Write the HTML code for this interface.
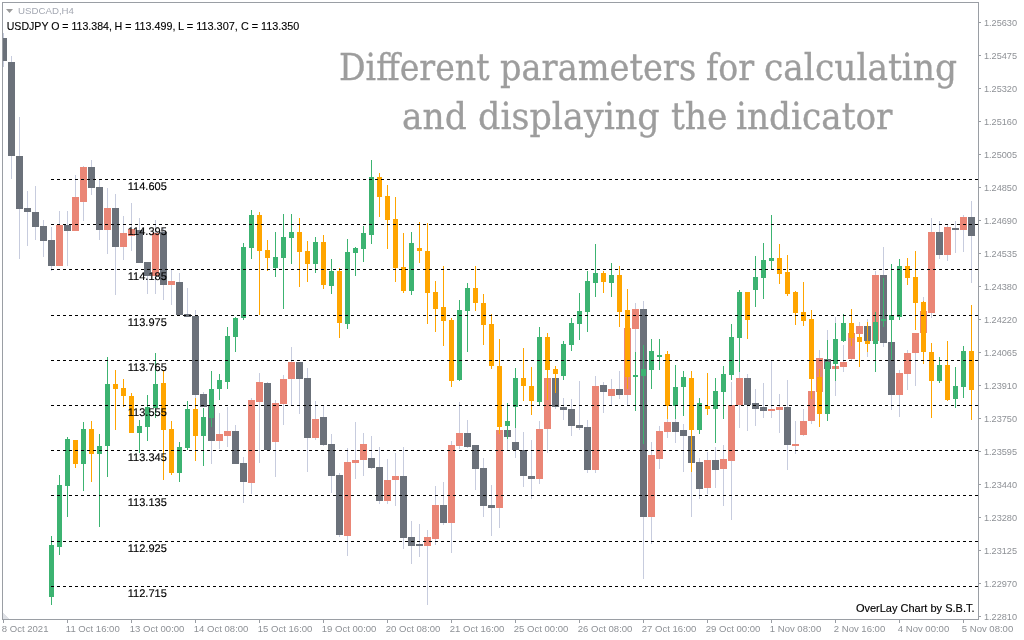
<!DOCTYPE html>
<html><head><meta charset="utf-8"><title>OverLay Chart</title>
<style>
html,body{margin:0;padding:0;background:#fff;}
body{width:1024px;height:640px;overflow:hidden;position:relative;font-family:"Liberation Sans",sans-serif;}
svg{position:absolute;left:0;top:0;display:block;}
.title{position:absolute;color:#9d9d9d;-webkit-text-stroke:0.35px #9d9d9d;font-family:"DejaVu Serif","Liberation Serif",serif;font-size:38px;line-height:48px;transform-origin:0 0;white-space:nowrap;}
</style></head><body>
<svg width="1024" height="640" viewBox="0 0 1024 640" shape-rendering="crispEdges">
<defs><clipPath id="plot"><rect x="3" y="3" width="975" height="616"/></clipPath></defs>
<g clip-path="url(#plot)">
<g fill="#c7ccde"><rect x="3" y="33" width="1" height="34"/><rect x="11" y="56" width="1" height="123"/><rect x="19" y="117" width="1" height="142"/><rect x="27" y="191" width="1" height="55"/><rect x="35" y="186" width="1" height="54"/><rect x="43" y="219.5" width="1" height="37.5"/><rect x="51" y="227" width="1" height="44"/><rect x="59" y="211" width="1" height="55"/><rect x="67" y="211" width="1" height="55"/><rect x="75" y="175" width="1" height="56"/><rect x="83" y="166" width="1" height="55"/><rect x="91" y="160" width="1" height="35"/><rect x="99" y="180" width="1" height="60"/><rect x="107" y="188" width="1" height="66"/><rect x="115" y="194" width="1" height="101"/><rect x="123" y="216" width="1" height="44"/><rect x="131" y="202.5" width="1" height="48"/><rect x="139" y="217.5" width="1" height="45.5"/><rect x="147" y="262" width="1" height="32"/><rect x="155" y="219.5" width="1" height="74.5"/><rect x="163" y="227.5" width="1" height="72.5"/><rect x="171" y="269" width="1" height="36"/><rect x="179" y="272.5" width="1" height="42.5"/><rect x="187" y="287.5" width="1" height="29.5"/><rect x="195" y="310" width="1" height="96"/><rect x="203" y="392" width="1" height="15"/><rect x="211" y="406" width="1" height="58"/><rect x="219" y="413" width="1" height="36"/><rect x="227" y="407" width="1" height="40"/><rect x="235" y="425" width="1" height="39"/><rect x="243" y="457" width="1" height="46"/><rect x="251" y="398" width="1" height="96"/><rect x="259" y="373" width="1" height="90"/><rect x="267" y="382" width="1" height="69"/><rect x="275" y="400" width="1" height="77"/><rect x="283" y="375" width="1" height="50"/><rect x="291" y="347" width="1" height="58"/><rect x="299" y="362" width="1" height="52"/><rect x="307" y="368" width="1" height="104"/><rect x="315" y="401" width="1" height="39"/><rect x="323" y="405" width="1" height="41"/><rect x="331" y="434" width="1" height="59"/><rect x="339" y="473" width="1" height="64"/><rect x="347" y="448" width="1" height="108"/><rect x="355" y="422" width="1" height="57"/><rect x="363" y="433" width="1" height="43"/><rect x="371" y="436" width="1" height="33"/><rect x="379" y="447" width="1" height="57"/><rect x="387" y="459" width="1" height="45"/><rect x="395" y="453" width="1" height="53"/><rect x="403" y="447" width="1" height="102"/><rect x="411" y="521" width="1" height="43"/><rect x="419" y="524" width="1" height="33"/><rect x="427" y="530" width="1" height="75"/><rect x="435" y="486" width="1" height="59"/><rect x="443" y="482" width="1" height="43"/><rect x="451" y="441" width="1" height="112"/><rect x="459" y="402" width="1" height="47"/><rect x="467" y="420" width="1" height="28"/><rect x="475" y="445" width="1" height="45"/><rect x="483" y="458" width="1" height="59"/><rect x="491" y="485" width="1" height="51"/><rect x="499" y="430" width="1" height="98"/><rect x="507" y="430" width="1" height="20"/><rect x="515" y="428" width="1" height="30"/><rect x="523" y="432" width="1" height="55"/><rect x="531" y="440" width="1" height="59"/><rect x="539" y="421" width="1" height="63"/><rect x="547" y="378" width="1" height="75"/><rect x="555" y="378" width="1" height="31"/><rect x="563" y="398" width="1" height="22"/><rect x="571" y="399" width="1" height="37"/><rect x="579" y="381" width="1" height="49"/><rect x="587" y="420" width="1" height="53"/><rect x="595" y="376" width="1" height="97"/><rect x="603" y="382" width="1" height="31"/><rect x="611" y="379" width="1" height="26"/><rect x="619" y="371" width="1" height="28"/><rect x="627" y="328" width="1" height="77"/><rect x="635" y="303" width="1" height="57"/><rect x="643" y="301" width="1" height="278"/><rect x="651" y="442" width="1" height="102"/><rect x="659" y="426" width="1" height="43"/><rect x="667" y="419" width="1" height="19"/><rect x="675" y="419" width="1" height="24"/><rect x="683" y="424" width="1" height="48"/><rect x="691" y="436" width="1" height="81"/><rect x="699" y="458" width="1" height="41"/><rect x="707" y="452" width="1" height="42"/><rect x="715" y="447" width="1" height="41"/><rect x="723" y="445" width="1" height="61"/><rect x="731" y="382" width="1" height="138"/><rect x="739" y="372" width="1" height="56"/><rect x="747" y="374" width="1" height="57"/><rect x="755" y="389" width="1" height="37"/><rect x="763" y="383" width="1" height="35"/><rect x="771" y="360" width="1" height="58"/><rect x="779" y="394" width="1" height="39"/><rect x="787" y="380" width="1" height="90"/><rect x="795" y="421" width="1" height="33"/><rect x="803" y="409" width="1" height="27"/><rect x="811" y="390" width="1" height="34"/><rect x="819" y="350" width="1" height="43"/><rect x="827" y="330" width="1" height="40"/><rect x="835" y="317" width="1" height="79"/><rect x="843" y="345" width="1" height="27"/><rect x="851" y="325" width="1" height="35"/><rect x="859" y="322" width="1" height="18"/><rect x="867" y="319" width="1" height="38"/><rect x="875" y="271" width="1" height="71"/><rect x="883" y="247" width="1" height="100"/><rect x="891" y="342" width="1" height="68"/><rect x="899" y="370" width="1" height="47"/><rect x="907" y="350" width="1" height="40"/><rect x="915" y="333" width="1" height="53"/><rect x="923" y="297" width="1" height="38"/><rect x="931" y="218" width="1" height="99.5"/><rect x="939" y="221" width="1" height="38"/><rect x="947" y="225" width="1" height="36"/><rect x="955" y="221" width="1" height="32"/><rect x="963" y="215" width="1" height="37"/><rect x="971" y="201" width="1" height="82"/></g>
<g><rect x="0" y="38" width="7" height="23" fill="#6b717a"/><rect x="8" y="62" width="7" height="94" fill="#6b717a"/><rect x="16" y="156" width="7" height="53" fill="#6b717a"/><rect x="24" y="208" width="7" height="4" fill="#6b717a"/><rect x="32" y="212" width="7" height="15" fill="#6b717a"/><rect x="40" y="226" width="7" height="15" fill="#6b717a"/><rect x="48" y="240" width="7" height="25.5" fill="#6b717a"/><rect x="56" y="224.5" width="7" height="41" fill="#ea8676"/><rect x="64" y="225" width="7" height="5.5" fill="#6b717a"/><rect x="72" y="197" width="7" height="33.5" fill="#ea8676"/><rect x="80" y="167" width="7" height="34.5" fill="#ea8676"/><rect x="88" y="167" width="7" height="20.5" fill="#6b717a"/><rect x="96" y="187" width="7" height="42.5" fill="#6b717a"/><rect x="104" y="208" width="7" height="21.5" fill="#ea8676"/><rect x="112" y="208" width="7" height="39" fill="#6b717a"/><rect x="120" y="233" width="7" height="14" fill="#ea8676"/><rect x="128" y="229" width="7" height="6.5" fill="#ea8676"/><rect x="136" y="230" width="7" height="32.5" fill="#6b717a"/><rect x="144" y="262" width="7" height="14" fill="#6b717a"/><rect x="152" y="232.5" width="7" height="43.5" fill="#ea8676"/><rect x="160" y="232" width="7" height="52.5" fill="#6b717a"/><rect x="168" y="281" width="7" height="3.5" fill="#ea8676"/><rect x="176" y="282" width="7" height="33" fill="#6b717a"/><rect x="184" y="314" width="7" height="3" fill="#6b717a"/><rect x="192" y="315.5" width="7" height="79.5" fill="#6b717a"/><rect x="200" y="394" width="7" height="13" fill="#6b717a"/><rect x="208" y="406" width="7" height="35" fill="#6b717a"/><rect x="216" y="434" width="7" height="7" fill="#ea8676"/><rect x="224" y="431" width="7" height="5" fill="#ea8676"/><rect x="232" y="431" width="7" height="33" fill="#6b717a"/><rect x="240" y="463" width="7" height="19" fill="#6b717a"/><rect x="248" y="400" width="7" height="83" fill="#ea8676"/><rect x="256" y="382" width="7" height="20" fill="#ea8676"/><rect x="264" y="383" width="7" height="67" fill="#6b717a"/><rect x="272" y="403" width="7" height="39" fill="#ea8676"/><rect x="280" y="379" width="7" height="25" fill="#ea8676"/><rect x="288" y="362" width="7" height="17" fill="#ea8676"/><rect x="296" y="362" width="7" height="17" fill="#6b717a"/><rect x="304" y="378" width="7" height="60" fill="#6b717a"/><rect x="312" y="419" width="7" height="19" fill="#ea8676"/><rect x="320" y="417" width="7" height="28" fill="#6b717a"/><rect x="328" y="444" width="7" height="32" fill="#6b717a"/><rect x="336" y="475" width="7" height="60" fill="#6b717a"/><rect x="344" y="462" width="7" height="74" fill="#ea8676"/><rect x="352" y="460" width="7" height="3" fill="#ea8676"/><rect x="360" y="444" width="7" height="16" fill="#ea8676"/><rect x="368" y="458" width="7" height="10" fill="#6b717a"/><rect x="376" y="467" width="7" height="34" fill="#6b717a"/><rect x="384" y="480" width="7" height="21" fill="#ea8676"/><rect x="392" y="476" width="7" height="4" fill="#ea8676"/><rect x="400" y="476" width="7" height="62" fill="#6b717a"/><rect x="408" y="537" width="7" height="9" fill="#6b717a"/><rect x="416" y="544" width="7" height="2" fill="#6b717a"/><rect x="424" y="537" width="7" height="9" fill="#ea8676"/><rect x="432" y="505" width="7" height="34" fill="#ea8676"/><rect x="440" y="505" width="7" height="18" fill="#6b717a"/><rect x="448" y="445" width="7" height="78" fill="#ea8676"/><rect x="456" y="433" width="7" height="13" fill="#ea8676"/><rect x="464" y="433" width="7" height="14" fill="#6b717a"/><rect x="472" y="445" width="7" height="24" fill="#6b717a"/><rect x="480" y="468" width="7" height="38" fill="#6b717a"/><rect x="488" y="505" width="7" height="3" fill="#6b717a"/><rect x="496" y="430" width="7" height="78" fill="#ea8676"/><rect x="504" y="430" width="7" height="7" fill="#6b717a"/><rect x="512" y="442" width="7" height="8" fill="#6b717a"/><rect x="520" y="450" width="7" height="26" fill="#6b717a"/><rect x="528" y="476" width="7" height="3" fill="#6b717a"/><rect x="536" y="429" width="7" height="50" fill="#ea8676"/><rect x="544" y="378" width="7" height="51" fill="#ea8676"/><rect x="552" y="378" width="7" height="29" fill="#6b717a"/><rect x="560" y="407" width="7" height="3" fill="#6b717a"/><rect x="568" y="409" width="7" height="17" fill="#6b717a"/><rect x="576" y="425" width="7" height="3" fill="#6b717a"/><rect x="584" y="427" width="7" height="43" fill="#6b717a"/><rect x="592" y="386" width="7" height="84" fill="#ea8676"/><rect x="600" y="385" width="7" height="7" fill="#6b717a"/><rect x="608" y="389" width="7" height="7" fill="#ea8676"/><rect x="616" y="389" width="7" height="6" fill="#6b717a"/><rect x="624" y="328" width="7" height="67" fill="#ea8676"/><rect x="632" y="309" width="7" height="20" fill="#ea8676"/><rect x="640" y="309" width="7" height="208" fill="#6b717a"/><rect x="648" y="455" width="7" height="62" fill="#ea8676"/><rect x="656" y="431" width="7" height="28" fill="#ea8676"/><rect x="664" y="422" width="7" height="10" fill="#ea8676"/><rect x="672" y="422" width="7" height="10" fill="#6b717a"/><rect x="680" y="430" width="7" height="6" fill="#6b717a"/><rect x="688" y="436" width="7" height="27" fill="#6b717a"/><rect x="696" y="462" width="7" height="27" fill="#6b717a"/><rect x="704" y="460" width="7" height="28" fill="#ea8676"/><rect x="712" y="460" width="7" height="10" fill="#6b717a"/><rect x="720" y="459" width="7" height="10" fill="#ea8676"/><rect x="728" y="405" width="7" height="56" fill="#ea8676"/><rect x="736" y="378" width="7" height="27" fill="#ea8676"/><rect x="744" y="378" width="7" height="27" fill="#6b717a"/><rect x="752" y="403" width="7" height="6" fill="#6b717a"/><rect x="760" y="407" width="7" height="4" fill="#6b717a"/><rect x="768" y="409" width="7" height="2" fill="#ea8676"/><rect x="776" y="407" width="7" height="3" fill="#ea8676"/><rect x="784" y="407" width="7" height="38" fill="#6b717a"/><rect x="792" y="444" width="7" height="2" fill="#ea8676"/><rect x="800" y="421" width="7" height="14" fill="#ea8676"/><rect x="808" y="391" width="7" height="30" fill="#ea8676"/><rect x="816" y="358" width="7" height="34" fill="#ea8676"/><rect x="824" y="359" width="7" height="10" fill="#6b717a"/><rect x="832" y="366" width="7" height="3" fill="#ea8676"/><rect x="840" y="362" width="7" height="5" fill="#ea8676"/><rect x="848" y="333" width="7" height="26" fill="#ea8676"/><rect x="856" y="326" width="7" height="8" fill="#ea8676"/><rect x="864" y="326" width="7" height="15" fill="#6b717a"/><rect x="872" y="275" width="7" height="66" fill="#ea8676"/><rect x="880" y="275" width="7" height="68" fill="#6b717a"/><rect x="888" y="342" width="7" height="53" fill="#6b717a"/><rect x="896" y="373" width="7" height="22" fill="#ea8676"/><rect x="904" y="353" width="7" height="21" fill="#ea8676"/><rect x="912" y="333" width="7" height="20" fill="#ea8676"/><rect x="920" y="311" width="7" height="22" fill="#ea8676"/><rect x="928" y="232" width="7" height="81" fill="#ea8676"/><rect x="936" y="232" width="7" height="23" fill="#6b717a"/><rect x="944" y="227" width="7" height="28" fill="#ea8676"/><rect x="952" y="228" width="7" height="1.5" fill="#6b717a"/><rect x="960" y="217" width="7" height="13" fill="#ea8676"/><rect x="968" y="217" width="7" height="18.5" fill="#6b717a"/></g>
<g><rect x="51" y="536" width="1" height="69" fill="#3cb371"/><rect x="59" y="475" width="1" height="80" fill="#3cb371"/><rect x="67" y="437" width="1" height="80" fill="#3cb371"/><rect x="75" y="440" width="1" height="28" fill="#ffa500"/><rect x="83" y="422" width="1" height="69" fill="#3cb371"/><rect x="91" y="421" width="1" height="61" fill="#ffa500"/><rect x="99" y="434" width="1" height="93" fill="#3cb371"/><rect x="107" y="357" width="1" height="120" fill="#3cb371"/><rect x="115" y="370" width="1" height="60" fill="#ffa500"/><rect x="123" y="379" width="1" height="28" fill="#ffa500"/><rect x="131" y="393" width="1" height="40" fill="#ffa500"/><rect x="139" y="420" width="1" height="33" fill="#3cb371"/><rect x="147" y="395" width="1" height="46" fill="#3cb371"/><rect x="155" y="353" width="1" height="65" fill="#3cb371"/><rect x="163" y="370" width="1" height="110" fill="#ffa500"/><rect x="171" y="421" width="1" height="54" fill="#ffa500"/><rect x="179" y="442" width="1" height="40" fill="#3cb371"/><rect x="187" y="401" width="1" height="49" fill="#3cb371"/><rect x="195" y="397.5" width="1" height="63.5" fill="#ffa500"/><rect x="203" y="408" width="1" height="58" fill="#3cb371"/><rect x="211" y="371" width="1" height="56" fill="#3cb371"/><rect x="219" y="374" width="1" height="26" fill="#3cb371"/><rect x="227" y="327" width="1" height="62" fill="#3cb371"/><rect x="235" y="317" width="1" height="35" fill="#3cb371"/><rect x="243" y="242.5" width="1" height="77.5" fill="#3cb371"/><rect x="251" y="210" width="1" height="49" fill="#3cb371"/><rect x="259" y="212" width="1" height="103" fill="#ffa500"/><rect x="267" y="240" width="1" height="30.5" fill="#ffa500"/><rect x="275" y="232" width="1" height="45" fill="#3cb371"/><rect x="283" y="214" width="1" height="95" fill="#3cb371"/><rect x="291" y="214" width="1" height="50" fill="#3cb371"/><rect x="299" y="218" width="1" height="69" fill="#ffa500"/><rect x="307" y="241" width="1" height="41" fill="#ffa500"/><rect x="315" y="237" width="1" height="36" fill="#3cb371"/><rect x="323" y="235" width="1" height="54" fill="#ffa500"/><rect x="331" y="259" width="1" height="35" fill="#3cb371"/><rect x="339" y="268" width="1" height="70" fill="#ffa500"/><rect x="347" y="239" width="1" height="90" fill="#3cb371"/><rect x="355" y="247" width="1" height="29" fill="#3cb371"/><rect x="363" y="226" width="1" height="36" fill="#3cb371"/><rect x="371" y="160" width="1" height="84" fill="#3cb371"/><rect x="379" y="173" width="1" height="44" fill="#ffa500"/><rect x="387" y="185" width="1" height="64" fill="#ffa500"/><rect x="395" y="197" width="1" height="85" fill="#ffa500"/><rect x="403" y="233" width="1" height="60" fill="#ffa500"/><rect x="411" y="232" width="1" height="63" fill="#3cb371"/><rect x="419" y="222" width="1" height="41" fill="#ffa500"/><rect x="427" y="223" width="1" height="101" fill="#ffa500"/><rect x="435" y="281" width="1" height="51" fill="#ffa500"/><rect x="443" y="266" width="1" height="80" fill="#ffa500"/><rect x="451" y="318" width="1" height="69" fill="#ffa500"/><rect x="459" y="300" width="1" height="81" fill="#3cb371"/><rect x="467" y="283" width="1" height="69" fill="#3cb371"/><rect x="475" y="266" width="1" height="45" fill="#ffa500"/><rect x="483" y="294" width="1" height="51" fill="#ffa500"/><rect x="491" y="314" width="1" height="55" fill="#ffa500"/><rect x="499" y="339" width="1" height="95" fill="#ffa500"/><rect x="507" y="403" width="1" height="36" fill="#3cb371"/><rect x="515" y="368" width="1" height="60" fill="#3cb371"/><rect x="523" y="348" width="1" height="53" fill="#ffa500"/><rect x="531" y="367" width="1" height="48" fill="#ffa500"/><rect x="539" y="327" width="1" height="78" fill="#3cb371"/><rect x="547" y="333" width="1" height="67" fill="#ffa500"/><rect x="555" y="366" width="1" height="27" fill="#ffa500"/><rect x="563" y="341" width="1" height="39" fill="#3cb371"/><rect x="571" y="317.5" width="1" height="33.5" fill="#3cb371"/><rect x="579" y="293" width="1" height="47" fill="#3cb371"/><rect x="587" y="271" width="1" height="61" fill="#3cb371"/><rect x="595" y="244" width="1" height="53" fill="#3cb371"/><rect x="603" y="271" width="1" height="22" fill="#ffa500"/><rect x="611" y="263" width="1" height="34" fill="#3cb371"/><rect x="619" y="266" width="1" height="61" fill="#ffa500"/><rect x="627" y="289" width="1" height="100" fill="#ffa500"/><rect x="635" y="352" width="1" height="59" fill="#3cb371"/><rect x="643" y="345" width="1" height="99" fill="#3cb371"/><rect x="651" y="339" width="1" height="50" fill="#3cb371"/><rect x="659" y="339" width="1" height="31" fill="#3cb371"/><rect x="667" y="351" width="1" height="68" fill="#ffa500"/><rect x="675" y="365" width="1" height="54" fill="#3cb371"/><rect x="683" y="371" width="1" height="45" fill="#3cb371"/><rect x="691" y="371" width="1" height="101" fill="#ffa500"/><rect x="699" y="398" width="1" height="36" fill="#3cb371"/><rect x="707" y="373" width="1" height="42" fill="#ffa500"/><rect x="715" y="378" width="1" height="65" fill="#3cb371"/><rect x="723" y="366" width="1" height="53" fill="#3cb371"/><rect x="731" y="324" width="1" height="56" fill="#3cb371"/><rect x="739" y="290" width="1" height="82" fill="#3cb371"/><rect x="747" y="292" width="1" height="47" fill="#ffa500"/><rect x="755" y="256" width="1" height="51" fill="#3cb371"/><rect x="763" y="243" width="1" height="56" fill="#3cb371"/><rect x="771" y="215" width="1" height="54.5" fill="#3cb371"/><rect x="779" y="244" width="1" height="40" fill="#ffa500"/><rect x="787" y="255" width="1" height="41" fill="#ffa500"/><rect x="795" y="291" width="1" height="34" fill="#ffa500"/><rect x="803" y="282" width="1" height="44" fill="#ffa500"/><rect x="811" y="310" width="1" height="89" fill="#ffa500"/><rect x="819" y="369" width="1" height="58" fill="#ffa500"/><rect x="827" y="340" width="1" height="81" fill="#3cb371"/><rect x="835" y="323" width="1" height="58" fill="#3cb371"/><rect x="843" y="314" width="1" height="28" fill="#3cb371"/><rect x="851" y="309" width="1" height="37" fill="#ffa500"/><rect x="859" y="334" width="1" height="33" fill="#ffa500"/><rect x="867" y="322" width="1" height="30" fill="#ffa500"/><rect x="875" y="312" width="1" height="60" fill="#3cb371"/><rect x="883" y="277.5" width="1" height="49.5" fill="#3cb371"/><rect x="891" y="264" width="1" height="96" fill="#3cb371"/><rect x="899" y="259" width="1" height="61" fill="#3cb371"/><rect x="907" y="258" width="1" height="27" fill="#ffa500"/><rect x="915" y="251" width="1" height="79" fill="#ffa500"/><rect x="923" y="300.5" width="1" height="63.5" fill="#ffa500"/><rect x="931" y="343" width="1" height="75" fill="#ffa500"/><rect x="939" y="357" width="1" height="26" fill="#3cb371"/><rect x="947" y="341" width="1" height="60" fill="#ffa500"/><rect x="955" y="367" width="1" height="41" fill="#3cb371"/><rect x="963" y="346" width="1" height="52" fill="#3cb371"/><rect x="971" y="305" width="1" height="115" fill="#ffa500"/></g>
<g><rect x="49" y="545" width="5" height="52" fill="#3cb371"/><rect x="57" y="485" width="5" height="62" fill="#3cb371"/><rect x="65" y="439" width="5" height="47" fill="#3cb371"/><rect x="73" y="440" width="5" height="24" fill="#ffa500"/><rect x="81" y="429" width="5" height="35" fill="#3cb371"/><rect x="89" y="429" width="5" height="25" fill="#ffa500"/><rect x="97" y="446" width="5" height="8" fill="#3cb371"/><rect x="105" y="384" width="5" height="62" fill="#3cb371"/><rect x="113" y="384" width="5" height="5" fill="#ffa500"/><rect x="121" y="388" width="5" height="8" fill="#ffa500"/><rect x="129" y="396" width="5" height="37" fill="#ffa500"/><rect x="137" y="426" width="5" height="7" fill="#3cb371"/><rect x="145" y="407" width="5" height="20" fill="#3cb371"/><rect x="153" y="384" width="5" height="23.5" fill="#3cb371"/><rect x="161" y="383" width="5" height="47" fill="#ffa500"/><rect x="169" y="429" width="5" height="44" fill="#ffa500"/><rect x="177" y="447" width="5" height="26" fill="#3cb371"/><rect x="185" y="409" width="5" height="39" fill="#3cb371"/><rect x="193" y="409" width="5" height="27" fill="#ffa500"/><rect x="201" y="417" width="5" height="19" fill="#3cb371"/><rect x="209" y="389" width="5" height="29" fill="#3cb371"/><rect x="217" y="380" width="5" height="9" fill="#3cb371"/><rect x="225" y="336" width="5" height="46" fill="#3cb371"/><rect x="233" y="317.5" width="5" height="19.5" fill="#3cb371"/><rect x="241" y="247" width="5" height="70.5" fill="#3cb371"/><rect x="249" y="214.5" width="5" height="33" fill="#3cb371"/><rect x="257" y="215" width="5" height="35.5" fill="#ffa500"/><rect x="265" y="250" width="5" height="8" fill="#ffa500"/><rect x="273" y="257" width="5" height="11" fill="#3cb371"/><rect x="281" y="237" width="5" height="20.5" fill="#3cb371"/><rect x="289" y="232" width="5" height="6" fill="#3cb371"/><rect x="297" y="232" width="5" height="20" fill="#ffa500"/><rect x="305" y="251" width="5" height="13" fill="#ffa500"/><rect x="313" y="242" width="5" height="22" fill="#3cb371"/><rect x="321" y="242" width="5" height="42.5" fill="#ffa500"/><rect x="329" y="271" width="5" height="15" fill="#3cb371"/><rect x="337" y="271" width="5" height="52" fill="#ffa500"/><rect x="345" y="252" width="5" height="72" fill="#3cb371"/><rect x="353" y="248" width="5" height="5" fill="#3cb371"/><rect x="361" y="233" width="5" height="16" fill="#3cb371"/><rect x="369" y="177" width="5" height="57.5" fill="#3cb371"/><rect x="377" y="177" width="5" height="20" fill="#ffa500"/><rect x="385" y="196" width="5" height="24" fill="#ffa500"/><rect x="393" y="219" width="5" height="49" fill="#ffa500"/><rect x="401" y="267" width="5" height="24" fill="#ffa500"/><rect x="409" y="243" width="5" height="48" fill="#3cb371"/><rect x="417" y="248" width="5" height="3" fill="#ffa500"/><rect x="425" y="251" width="5" height="41.5" fill="#ffa500"/><rect x="433" y="292" width="5" height="17" fill="#ffa500"/><rect x="441" y="307" width="5" height="14" fill="#ffa500"/><rect x="449" y="320" width="5" height="61" fill="#ffa500"/><rect x="457" y="310" width="5" height="70" fill="#3cb371"/><rect x="465" y="288" width="5" height="23" fill="#3cb371"/><rect x="473" y="288" width="5" height="15" fill="#ffa500"/><rect x="481" y="303" width="5" height="22" fill="#ffa500"/><rect x="489" y="324" width="5" height="42" fill="#ffa500"/><rect x="497" y="366" width="5" height="61" fill="#ffa500"/><rect x="505" y="421" width="5" height="5" fill="#3cb371"/><rect x="513" y="378" width="5" height="29" fill="#3cb371"/><rect x="521" y="378" width="5" height="8" fill="#ffa500"/><rect x="529" y="386" width="5" height="15" fill="#ffa500"/><rect x="537" y="337" width="5" height="65" fill="#3cb371"/><rect x="545" y="337" width="5" height="33" fill="#ffa500"/><rect x="553" y="369" width="5" height="5" fill="#ffa500"/><rect x="561" y="344" width="5" height="32" fill="#3cb371"/><rect x="569" y="323" width="5" height="22" fill="#3cb371"/><rect x="577" y="311" width="5" height="13" fill="#3cb371"/><rect x="585" y="281" width="5" height="30.5" fill="#3cb371"/><rect x="593" y="273" width="5" height="9.5" fill="#3cb371"/><rect x="601" y="273" width="5" height="8.5" fill="#ffa500"/><rect x="609" y="275" width="5" height="7.5" fill="#3cb371"/><rect x="617" y="275" width="5" height="36.5" fill="#ffa500"/><rect x="625" y="310" width="5" height="67" fill="#ffa500"/><rect x="633" y="375" width="5" height="2" fill="#3cb371"/><rect x="641" y="369" width="5" height="7" fill="#3cb371"/><rect x="649" y="351" width="5" height="19" fill="#3cb371"/><rect x="657" y="355" width="5" height="2" fill="#3cb371"/><rect x="665" y="354" width="5" height="52" fill="#ffa500"/><rect x="673" y="387" width="5" height="19" fill="#3cb371"/><rect x="681" y="377" width="5" height="10" fill="#3cb371"/><rect x="689" y="378" width="5" height="52" fill="#ffa500"/><rect x="697" y="403" width="5" height="27" fill="#3cb371"/><rect x="705" y="406" width="5" height="3" fill="#ffa500"/><rect x="713" y="391" width="5" height="18" fill="#3cb371"/><rect x="721" y="374" width="5" height="18" fill="#3cb371"/><rect x="729" y="337" width="5" height="38" fill="#3cb371"/><rect x="737" y="292" width="5" height="46" fill="#3cb371"/><rect x="745" y="292" width="5" height="28" fill="#ffa500"/><rect x="753" y="277" width="5" height="12.5" fill="#3cb371"/><rect x="761" y="260" width="5" height="17.5" fill="#3cb371"/><rect x="769" y="258" width="5" height="3" fill="#3cb371"/><rect x="777" y="258" width="5" height="16" fill="#ffa500"/><rect x="785" y="272" width="5" height="22" fill="#ffa500"/><rect x="793" y="292" width="5" height="21" fill="#ffa500"/><rect x="801" y="312" width="5" height="9" fill="#ffa500"/><rect x="809" y="319" width="5" height="60" fill="#ffa500"/><rect x="817" y="377" width="5" height="37" fill="#ffa500"/><rect x="825" y="362" width="5" height="52" fill="#3cb371"/><rect x="833" y="339" width="5" height="25" fill="#3cb371"/><rect x="841" y="323" width="5" height="18" fill="#3cb371"/><rect x="849" y="323" width="5" height="15" fill="#ffa500"/><rect x="857" y="337" width="5" height="5" fill="#ffa500"/><rect x="865" y="341" width="5" height="3" fill="#ffa500"/><rect x="873" y="322" width="5" height="22" fill="#3cb371"/><rect x="881" y="319" width="5" height="2" fill="#3cb371"/><rect x="889" y="315" width="5" height="5" fill="#3cb371"/><rect x="897" y="266" width="5" height="51" fill="#3cb371"/><rect x="905" y="266" width="5" height="11.5" fill="#ffa500"/><rect x="913" y="277" width="5" height="26" fill="#ffa500"/><rect x="921" y="302" width="5" height="50" fill="#ffa500"/><rect x="929" y="352" width="5" height="29" fill="#ffa500"/><rect x="937" y="365" width="5" height="16" fill="#3cb371"/><rect x="945" y="365" width="5" height="35" fill="#ffa500"/><rect x="953" y="386" width="5" height="13" fill="#3cb371"/><rect x="961" y="351" width="5" height="36" fill="#3cb371"/><rect x="969" y="351" width="5" height="39" fill="#ffa500"/></g>
</g>
<g stroke="#000" stroke-width="1" stroke-dasharray="3 3"><line x1="51" x2="978" y1="179.5" y2="179.5"/><line x1="51" x2="978" y1="224.5" y2="224.5"/><line x1="51" x2="978" y1="269.5" y2="269.5"/><line x1="51" x2="978" y1="315.5" y2="315.5"/><line x1="51" x2="978" y1="360.5" y2="360.5"/><line x1="51" x2="978" y1="405.5" y2="405.5"/><line x1="51" x2="978" y1="450.5" y2="450.5"/><line x1="51" x2="978" y1="495.5" y2="495.5"/><line x1="51" x2="978" y1="541.5" y2="541.5"/><line x1="51" x2="978" y1="586.5" y2="586.5"/></g>
<g fill="#9a9ea4">
<rect x="2" y="2" width="977" height="1"/>
<rect x="2" y="2" width="1" height="618"/>
<rect x="978" y="2" width="1" height="618"/>
<rect x="2" y="619" width="977" height="1"/>
<rect x="979" y="22" width="2" height="1"/><rect x="979" y="55" width="2" height="1"/><rect x="979" y="88" width="2" height="1"/><rect x="979" y="121" width="2" height="1"/><rect x="979" y="154" width="2" height="1"/><rect x="979" y="187" width="2" height="1"/><rect x="979" y="220" width="2" height="1"/><rect x="979" y="253" width="2" height="1"/><rect x="979" y="286" width="2" height="1"/><rect x="979" y="319" width="2" height="1"/><rect x="979" y="352" width="2" height="1"/><rect x="979" y="385" width="2" height="1"/><rect x="979" y="418" width="2" height="1"/><rect x="979" y="451" width="2" height="1"/><rect x="979" y="484" width="2" height="1"/><rect x="979" y="517" width="2" height="1"/><rect x="979" y="550" width="2" height="1"/><rect x="979" y="583" width="2" height="1"/><rect x="979" y="616" width="2" height="1"/><rect x="3" y="620" width="1" height="3"/><rect x="67" y="620" width="1" height="3"/><rect x="131" y="620" width="1" height="3"/><rect x="195" y="620" width="1" height="3"/><rect x="259" y="620" width="1" height="3"/><rect x="323" y="620" width="1" height="3"/><rect x="387" y="620" width="1" height="3"/><rect x="451" y="620" width="1" height="3"/><rect x="515" y="620" width="1" height="3"/><rect x="579" y="620" width="1" height="3"/><rect x="643" y="620" width="1" height="3"/><rect x="707" y="620" width="1" height="3"/><rect x="771" y="620" width="1" height="3"/><rect x="835" y="620" width="1" height="3"/><rect x="899" y="620" width="1" height="3"/><rect x="963" y="620" width="1" height="3"/>
</g>
<polygon points="3,613 3,619 9,619" fill="#dfe1e6"/>
<polygon points="6,9 13,9 9.5,13" fill="#9a9a9a" shape-rendering="geometricPrecision"/>
<g font-family="Liberation Sans, sans-serif" font-size="11px" fill="#000" stroke="#000" stroke-width="0.15" text-rendering="geometricPrecision"><text x="127.8" y="190">114.605</text><text x="127.8" y="235">114.395</text><text x="127.8" y="280">114.185</text><text x="127.8" y="326">113.975</text><text x="127.8" y="371">113.765</text><text x="127.8" y="416">113.555</text><text x="127.8" y="461">113.345</text><text x="127.8" y="506">113.135</text><text x="127.8" y="552">112.925</text><text x="127.8" y="597">112.715</text></g>
<g font-family="Liberation Sans, sans-serif" font-size="9.8px" fill="#8e9196"><text x="983.9" y="25.7" textLength="33.2" lengthAdjust="spacingAndGlyphs">1.25630</text><text x="983.9" y="58.7" textLength="33.2" lengthAdjust="spacingAndGlyphs">1.25475</text><text x="983.9" y="91.7" textLength="33.2" lengthAdjust="spacingAndGlyphs">1.25320</text><text x="983.9" y="124.7" textLength="33.2" lengthAdjust="spacingAndGlyphs">1.25160</text><text x="983.9" y="157.7" textLength="33.2" lengthAdjust="spacingAndGlyphs">1.25005</text><text x="983.9" y="190.7" textLength="33.2" lengthAdjust="spacingAndGlyphs">1.24850</text><text x="983.9" y="223.7" textLength="33.2" lengthAdjust="spacingAndGlyphs">1.24690</text><text x="983.9" y="256.7" textLength="33.2" lengthAdjust="spacingAndGlyphs">1.24535</text><text x="983.9" y="289.7" textLength="33.2" lengthAdjust="spacingAndGlyphs">1.24380</text><text x="983.9" y="322.7" textLength="33.2" lengthAdjust="spacingAndGlyphs">1.24220</text><text x="983.9" y="355.7" textLength="33.2" lengthAdjust="spacingAndGlyphs">1.24065</text><text x="983.9" y="388.7" textLength="33.2" lengthAdjust="spacingAndGlyphs">1.23910</text><text x="983.9" y="421.7" textLength="33.2" lengthAdjust="spacingAndGlyphs">1.23750</text><text x="983.9" y="454.7" textLength="33.2" lengthAdjust="spacingAndGlyphs">1.23595</text><text x="983.9" y="487.7" textLength="33.2" lengthAdjust="spacingAndGlyphs">1.23440</text><text x="983.9" y="520.7" textLength="33.2" lengthAdjust="spacingAndGlyphs">1.23280</text><text x="983.9" y="553.7" textLength="33.2" lengthAdjust="spacingAndGlyphs">1.23125</text><text x="983.9" y="586.7" textLength="33.2" lengthAdjust="spacingAndGlyphs">1.22970</text><text x="983.9" y="619.7" textLength="33.2" lengthAdjust="spacingAndGlyphs">1.22810</text></g>
<g font-family="Liberation Sans, sans-serif" font-size="9.8px" fill="#8e9196"><text transform="translate(1.8,631.7) scale(0.975,1)">8 Oct 2021</text><text transform="translate(65.8,631.7) scale(0.975,1)">11 Oct 16:00</text><text transform="translate(129.8,631.7) scale(0.975,1)">13 Oct 00:00</text><text transform="translate(193.8,631.7) scale(0.975,1)">14 Oct 08:00</text><text transform="translate(257.8,631.7) scale(0.975,1)">15 Oct 16:00</text><text transform="translate(321.8,631.7) scale(0.975,1)">19 Oct 00:00</text><text transform="translate(385.8,631.7) scale(0.975,1)">20 Oct 08:00</text><text transform="translate(449.8,631.7) scale(0.975,1)">21 Oct 16:00</text><text transform="translate(513.8,631.7) scale(0.975,1)">25 Oct 00:00</text><text transform="translate(577.8,631.7) scale(0.975,1)">26 Oct 08:00</text><text transform="translate(641.8,631.7) scale(0.975,1)">27 Oct 16:00</text><text transform="translate(705.8,631.7) scale(0.975,1)">29 Oct 00:00</text><text transform="translate(769.8,631.7) scale(0.975,1)">1 Nov 08:00</text><text transform="translate(833.8,631.7) scale(0.975,1)">2 Nov 16:00</text><text transform="translate(897.8,631.7) scale(0.975,1)">4 Nov 00:00</text><text transform="translate(961.8,631.7) scale(0.975,1)">5 Nov 08:00</text></g>
<text x="18" y="13.8" font-family="Liberation Sans, sans-serif" font-size="9.9px" textLength="56" lengthAdjust="spacingAndGlyphs" fill="#a4a8b2">USDCAD,H4</text>
<g font-family="Liberation Sans, sans-serif" font-size="10.5px" fill="#000" stroke="#000" stroke-width="0.12"><text x="6.7" y="29.7" textLength="105.2" lengthAdjust="spacingAndGlyphs">USDJPY O = 113.384,</text><text x="114.5" y="29.7" textLength="60.9" lengthAdjust="spacingAndGlyphs">H = 113.499,</text><text x="178" y="29.7" textLength="59.9" lengthAdjust="spacingAndGlyphs">L = 113.307,</text><text x="241" y="29.7" textLength="58.3" lengthAdjust="spacingAndGlyphs">C = 113.350</text></g>
<text x="974.5" y="612" text-anchor="end" font-family="Liberation Sans, sans-serif" font-size="11px" fill="#000" stroke="#000" stroke-width="0.15">OverLay Chart by S.B.T.</text>
</svg>
<div><span class="title" style="left:338.76px;top:43px;transform:scaleX(0.8723)">Different</span> <span class="title" style="left:500.12px;top:43px;transform:scaleX(0.8848)">parameters</span> <span class="title" style="left:705.63px;top:43px;transform:scaleX(0.8737)">for</span> <span class="title" style="left:763.59px;top:43px;transform:scaleX(0.9071)">calculating</span> <span class="title" style="left:402.09px;top:92.4px;transform:scaleX(0.9055)">and</span> <span class="title" style="left:478.08px;top:92.4px;transform:scaleX(0.9199)">displaying</span> <span class="title" style="left:670.59px;top:92.4px;transform:scaleX(0.9081)">the</span> <span class="title" style="left:735.60px;top:92.4px;transform:scaleX(0.9025)">indicator</span></div>
</body></html>
